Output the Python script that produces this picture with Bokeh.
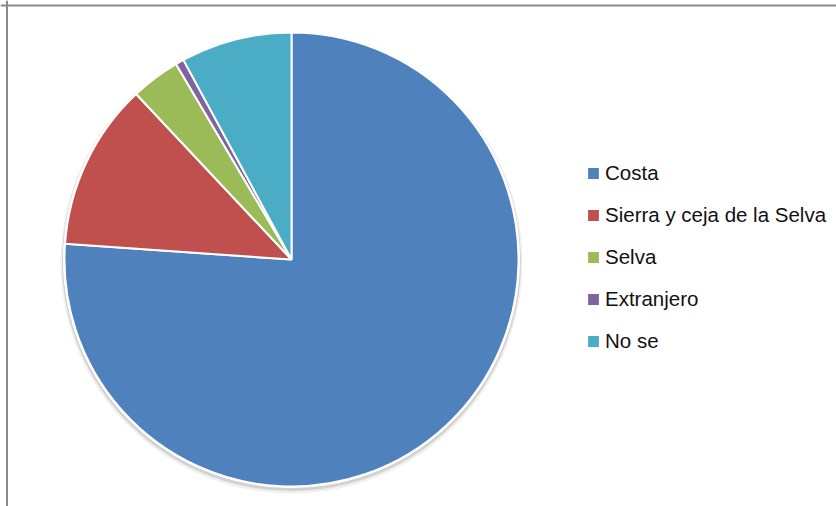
import numpy as np
from bokeh.plotting import figure
from bokeh.models import ColumnDataSource, Range1d, Legend, LegendItem, Span
from bokeh.embed import file_html
from bokeh.resources import INLINE

categories = ["Costa", "Sierra y ceja de la Selva", "Selva", "Extranjero", "No se"]
values = [76.1, 11.9, 3.5, 0.6, 7.9]
colors = ["#4F81BD", "#C0504D", "#9BBB59", "#8064A2", "#4BACC6"]

W, H = 836, 506
CX, CY_PX, R = 291, 259, 227
CY = H - CY_PX

frac = np.array(values) / sum(values)
cum = np.concatenate([[0.0], np.cumsum(frac)])
start = np.pi / 2 - cum[1:] * 2 * np.pi
end = np.pi / 2 - cum[:-1] * 2 * np.pi

src = ColumnDataSource(dict(
    x=[CX] * len(values), y=[CY] * len(values),
    start=start, end=end, color=colors, cat=categories,
))

p = figure(width=W, height=H, x_range=Range1d(0, W), y_range=Range1d(0, H),
           output_backend="svg", toolbar_location=None, min_border=0,
           x_axis_type=None, y_axis_type=None, outline_line_color=None,
           background_fill_color="white", border_fill_color="white")

# soft shadow
p.circle(x=[CX], y=[CY - 3], radius=R + 4, fill_color="#000000", fill_alpha=0.06, line_color=None)
p.circle(x=[CX], y=[CY - 2], radius=R + 2.5, fill_color="#000000", fill_alpha=0.12, line_color=None)
p.circle(x=[CX], y=[CY], radius=R + 1.5, fill_color="white", line_color=None)

wr = p.wedge(x="x", y="y", radius=R, start_angle="start", end_angle="end",
             fill_color="color", line_color="white", line_width=2, source=src)

items = [LegendItem(label=c, renderers=[wr], index=i) for i, c in enumerate(categories)]
legend = Legend(items=items, location=(585, 153), padding=0, margin=0,
                border_line_color=None, background_fill_alpha=0,
                glyph_width=16, glyph_height=16, label_standoff=4,
                label_height=23, spacing=18,
                label_text_font="Liberation Sans", label_text_font_size="20.5px",
                label_text_color="#111111")
p.add_layout(legend)

p.add_layout(Span(location=6.5, dimension="height", line_color="#8a8a8a", line_width=2))
p.add_layout(Span(location=H - 5, dimension="width", line_color="#8a8a8a", line_width=2))

open("out.html", "w").write(file_html(p, INLINE))
